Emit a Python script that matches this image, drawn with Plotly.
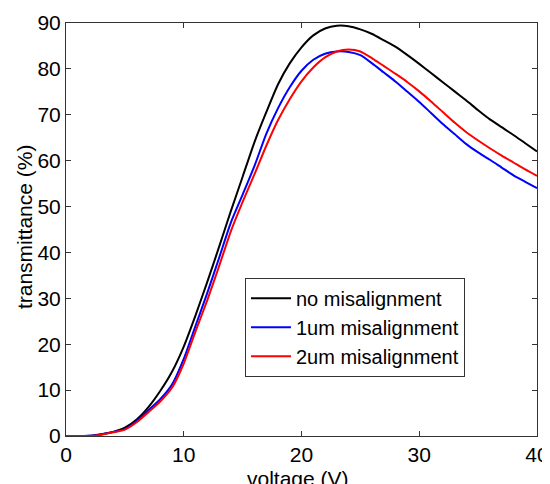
import plotly.graph_objects as go

voltage = [0, 1, 2, 3, 4, 5, 6, 7, 8, 9, 10, 11, 12, 13, 14, 15, 16, 17, 18, 19, 20,
           21, 22, 23, 24, 25, 26, 27, 28, 29, 30, 31, 32, 33, 34, 35, 36, 37, 38, 39, 40]

no_misalignment = [0, 0, 0.05, 0.4, 0.9, 1.8, 3.6, 6.3, 9.8, 14.0, 19.5, 26.3, 33.6, 41.2, 49.0,
                   56.5, 64.0, 70.5, 76.6, 81.2, 84.7, 87.3, 88.8, 89.4, 89.3, 88.6, 87.6, 86.2,
                   84.8, 83.0, 81.1, 79.1, 77.1, 75.1, 73.1, 71.0, 69.0, 67.3, 65.6, 63.8, 62.0]

um1_misalignment = [0, 0, 0.03, 0.35, 0.85, 1.5, 3.2, 5.6, 8.0, 11.2, 16.8, 24.0, 31.2, 38.8, 46.5,
                    52.6, 58.8, 65.8, 71.4, 76.0, 79.6, 82.0, 83.3, 83.8, 83.7, 83.0, 81.2, 79.2,
                    77.2, 75.0, 72.8, 70.4, 68.0, 65.8, 63.6, 61.8, 60.2, 58.5, 56.8, 55.4, 54.0]

um2_misalignment = [0, 0, 0, 0.3, 0.8, 1.4, 3.0, 5.2, 7.5, 10.5, 15.8, 22.8, 29.6, 37.0, 44.6,
                    51.0, 57.0, 63.2, 68.8, 73.4, 77.3, 80.3, 82.5, 83.8, 84.2, 83.8, 82.3, 80.6,
                    78.9, 77.1, 75.1, 72.9, 70.6, 68.3, 66.2, 64.4, 62.7, 61.1, 59.6, 58.1, 56.7]

series_names = ["no misalignment", "1um misalignment", "2um misalignment"]
series_colors = ["#000000", "#0000ff", "#ff0000"]

x_ticks = [0, 10, 20, 30, 40]
y_ticks = [0, 10, 20, 30, 40, 50, 60, 70, 80, 90]

FONT = "Liberation Sans, Arial, sans-serif"
FS = 21

fig = go.Figure()
for name, ys, col in zip(series_names, [no_misalignment, um1_misalignment, um2_misalignment], series_colors):
    fig.add_trace(go.Scatter(x=voltage, y=ys, mode="lines", name=name,
                             line=dict(color=col, width=2, shape="spline", smoothing=0.6)))

axis_common = dict(showgrid=False, zeroline=False, showline=True, linecolor="#333333",
                   linewidth=1, mirror="ticks", ticks="inside", ticklen=5, tickcolor="#333333",
                   automargin=False,
                   tickfont=dict(family=FONT, size=FS, color="black"))

fig.update_layout(
    width=550, height=484,
    # the page body adds an 8px offset; margins compensate so the plot area lands where the reference has it
    margin=dict(l=58, r=21, t=15, b=56),
    paper_bgcolor="white", plot_bgcolor="white",
    font=dict(family=FONT, size=FS, color="black"),
    xaxis=dict(range=[0, 40], tickvals=x_ticks, **axis_common),
    yaxis=dict(range=[0, 90], tickvals=y_ticks, **axis_common),
    legend=dict(x=0.38, y=0.383, xanchor="left", yanchor="top",
                bgcolor="white", bordercolor="#333333", borderwidth=1,
                font=dict(family=FONT, size=20),
                tracegroupgap=0, itemwidth=40),
    showlegend=True,
    annotations=[
        dict(text="voltage (V)", xref="paper", yref="paper", x=0.493, y=-0.104,
             xanchor="center", yanchor="middle", showarrow=False,
             font=dict(family=FONT, size=FS, color="black")),
        dict(text="transmittance (%)", xref="paper", yref="paper", x=-0.089, y=0.506,
             xanchor="center", yanchor="middle", textangle=-90, showarrow=False,
             font=dict(family=FONT, size=FS, color="black")),
    ],
)

fig.write_html("out.html")
